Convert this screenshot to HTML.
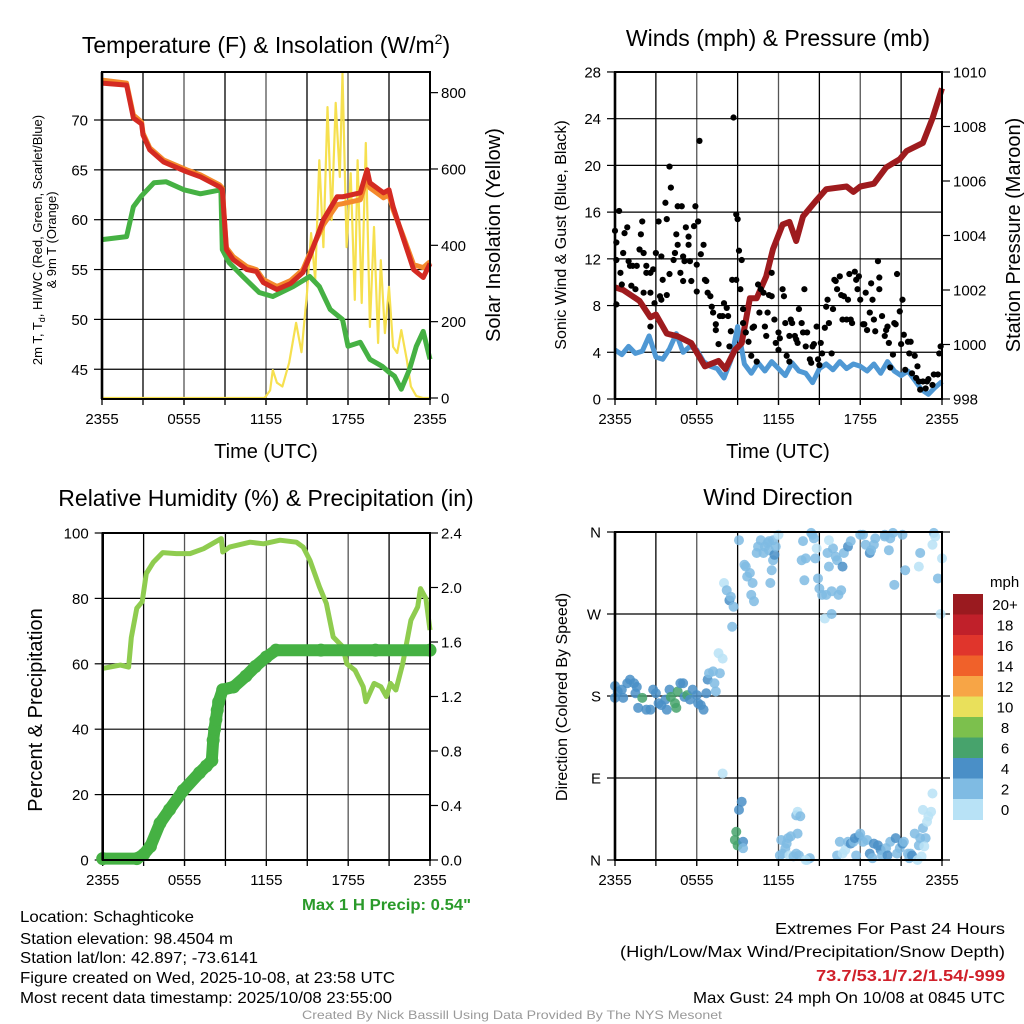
<!DOCTYPE html>
<html><head><meta charset="utf-8"><style>
html,body{margin:0;padding:0;background:#fff;}
svg{display:block;font-family:"Liberation Sans",Arial,sans-serif;}
</style></head><body>
<svg id="chart" width="1024" height="1024" viewBox="0 0 1024 1024" xmlns="http://www.w3.org/2000/svg">
<rect width="1024" height="1024" fill="#fff"/>
<g id="p1"></g>
<g id="p2"></g>
<g id="p3"></g>
<g id="p4"></g>
<g id="txt" font-size="16" fill="#000">
<text x="266" y="53" font-size="23" text-anchor="middle">Temperature (F) &amp; Insolation (W/m<tspan font-size="14" dy="-9">2</tspan><tspan dy="9">)</tspan></text>
<text x="778" y="46" font-size="23" text-anchor="middle">Winds (mph) &amp; Pressure (mb)</text>
<text x="266" y="506" font-size="23" text-anchor="middle">Relative Humidity (%) &amp; Precipitation (in)</text>
<text x="778" y="505" font-size="23" text-anchor="middle">Wind Direction</text>
<text transform="translate(42,240) rotate(-90)" font-size="13" text-anchor="middle">2m T, T<tspan font-size="9" dy="3">d</tspan><tspan dy="-3">, HI/WC (Red, Green, Scarlet/Blue)</tspan></text>
<text transform="translate(56,240) rotate(-90)" font-size="13" text-anchor="middle">&amp; 9m T (Orange)</text>
<text transform="translate(500,235) rotate(-90)" font-size="20" text-anchor="middle">Solar Insolation (Yellow)</text>
<text transform="translate(566,235) rotate(-90)" font-size="16" text-anchor="middle">Sonic Wind &amp; Gust (Blue, Black)</text>
<text transform="translate(1020,235) rotate(-90)" font-size="20" text-anchor="middle">Station Pressure (Maroon)</text>
<text transform="translate(42,710) rotate(-90)" font-size="20" text-anchor="middle">Percent &amp; Precipitation</text>
<text transform="translate(567,697) rotate(-90)" font-size="16" text-anchor="middle">Direction (Colored By Speed)</text>
<text x="266" y="458" font-size="20" text-anchor="middle">Time (UTC)</text>
<text x="778" y="458" font-size="20" text-anchor="middle">Time (UTC)</text>
<text x="302" y="910" font-size="16" font-weight="bold" fill="#2a9a2a" textLength="169" lengthAdjust="spacingAndGlyphs">Max 1 H Precip: 0.54"</text>
<text x="20" y="922" textLength="174" lengthAdjust="spacingAndGlyphs">Location: Schaghticoke</text>
<text x="20" y="944" textLength="213" lengthAdjust="spacingAndGlyphs">Station elevation: 98.4504 m</text>
<text x="20" y="963" textLength="238" lengthAdjust="spacingAndGlyphs">Station lat/lon: 42.897; -73.6141</text>
<text x="20" y="983" textLength="375" lengthAdjust="spacingAndGlyphs">Figure created on Wed, 2025-10-08, at 23:58 UTC</text>
<text x="20" y="1003" textLength="372" lengthAdjust="spacingAndGlyphs">Most recent data timestamp: 2025/10/08 23:55:00</text>
<text x="775" y="934" textLength="230" lengthAdjust="spacingAndGlyphs">Extremes For Past 24 Hours</text>
<text x="620" y="957" textLength="385" lengthAdjust="spacingAndGlyphs">(High/Low/Max Wind/Precipitation/Snow Depth)</text>
<text x="816" y="981" font-weight="bold" fill="#d0202a" textLength="189" lengthAdjust="spacingAndGlyphs">73.7/53.1/7.2/1.54/-999</text>
<text x="693" y="1003" textLength="312" lengthAdjust="spacingAndGlyphs">Max Gust: 24 mph On 10/08 at 0845 UTC</text>
<text x="302" y="1019" font-size="12" fill="#999" textLength="420" lengthAdjust="spacingAndGlyphs">Created By Nick Bassill Using Data Provided By The NYS Mesonet</text>
</g>
</svg>
<script>
// ---------- data ----------
const xTickLabels = ["2355","0555","1155","1755","2355"];
const tempTicks = [45,50,55,60,65,70];
const solarTicks = [0,200,400,600,800];
const windTicks = [0,4,8,12,16,20,24,28];
const presTicks = [998,1000,1002,1004,1006,1008,1010];
const rhTicks = [0,20,40,60,80,100];
const precipTicks = [0.0,0.4,0.8,1.2,1.6,2.0,2.4];
const dirTickLabels = ["N","E","S","W","N"];
const dirTicks = [0,90,180,270,360];
const speedBins = ["0","2","4","6","8","10","12","14","16","18","20+"];

const tempTimes = [0,1.8,2.3,2.9,3.0,3.5,4.5,6.2,7.2,8.6,8.8,9.1,9.6,10.6,11.3,11.8,12.8,13.8,14.7,15.2,16.2,17.2,17.6,18.9,19.4,19.6,20.6,21.0,21.3,22.0,22.8,23.5,24];
const tempRed = [73.7,73.5,70.2,69.6,68.5,67,65.8,64.8,64.3,63.3,63,57,56,55,54.8,53.7,53,53.6,54.7,56.3,60,62.3,62.3,62.7,65,63.7,62.7,63,61.3,58.3,55,54.2,55.6];
const tempOrange = [74.0,73.7,70.5,69.8,68.7,67.2,66,65,64.5,63.5,63.2,57.2,56.3,55.3,55,54,53.3,53.9,55,56.6,59.5,61.5,61.6,62,64.2,63.2,62.2,62.5,61,58.5,55.5,55.2,55.8];
const dewTimes = [0,1.8,2.3,2.9,3.8,4.7,6.0,7.2,8.7,8.8,9.3,10.3,11.5,12.5,14.0,15.2,15.9,16.7,17.6,18.0,18.9,19.6,20.5,21.0,21.4,21.9,22.5,23.0,23.5,24];
const dewPoint = [58,58.3,61.3,62.4,63.7,63.8,63,62.6,63,57,55.7,54.3,52.7,52.3,53.3,54.3,53.3,51,50,47.3,47.7,46,45.3,44.7,44.3,43,45,47.3,48.8,46];
const solarTimes = [0,11.9,12.3,12.5,12.8,13.2,13.7,14.2,14.6,15.0,15.3,15.6,15.9,16.2,16.5,16.8,17.1,17.4,17.6,17.9,18.2,18.5,18.7,19.0,19.3,19.6,19.9,20.2,20.4,20.7,21.0,21.3,21.6,21.9,22.3,22.6,23.0,23.5,24];
const solarValues = [0,0,20,73,40,30,93,197,120,275,432,309,623,395,762,466,773,579,851,395,589,257,623,249,668,186,448,144,361,170,291,134,118,178,100,30,5,0,0];

const windTimes = [0,0.5,1,1.5,2,2.5,3,3.5,4,4.5,5,5.5,6,6.5,7,7.5,8,8.5,9,9.5,10,10.5,11,11.5,12,12.5,13,13.5,14,14.5,15,15.5,16,16.5,17,17.5,18,18.5,19,19.5,20,20.5,21,21.5,22,22.5,23,23.5,24];
const windSpeed = [4.2,3.8,4.5,3.9,4.1,5.4,3.6,3.4,4.3,5.6,4.0,4.5,4.2,3.2,2.8,2.6,1.8,3.3,6.2,3.0,2.2,3.1,2.4,3.2,2.6,2.0,3.1,2.4,2.2,1.4,2.6,3.0,2.5,3.2,2.6,3.0,2.8,2.4,3.0,2.2,3.2,2.4,2.0,2.4,1.6,0.8,0.4,1.0,1.5];
const gustTimes = [0,0.1,0.1,0.1,0.3,0.4,0.5,0.6,0.7,0.9,1.0,1.1,1.2,1.3,1.5,1.6,1.8,1.9,2.0,2.1,2.1,2.3,2.3,2.6,2.6,2.6,2.8,2.9,3.0,3.2,3.3,3.4,3.4,3.5,3.7,3.8,3.8,4.0,4.0,4.1,4.3,4.4,4.5,4.6,4.6,4.8,4.9,5.0,5.0,5.1,5.2,5.4,5.4,5.5,5.6,5.8,5.9,6.0,6.0,6.1,6.2,6.3,6.5,6.6,6.7,6.8,7.0,7.1,7.2,7.4,7.4,7.6,7.7,7.9,8.0,8.2,8.3,8.4,8.5,8.6,8.7,8.9,8.9,9.0,9.1,9.2,9.3,9.4,9.4,9.6,9.8,10.0,10.1,10.2,10.4,10.5,10.6,10.7,10.9,11.0,11.1,11.2,11.3,11.5,11.5,11.7,11.8,12.0,12.0,12.1,12.3,12.4,12.5,12.6,12.8,12.8,12.9,13.0,13.2,13.3,13.4,13.5,13.7,13.8,13.9,14.0,14.1,14.3,14.4,14.5,14.6,14.8,14.9,15.0,15.1,15.2,15.4,15.5,15.6,15.7,15.9,16.0,16.1,16.2,16.3,16.5,16.6,16.7,16.8,17.0,17.1,17.2,17.3,17.4,17.6,17.7,17.8,17.9,18.0,18.2,18.3,18.4,18.5,18.7,18.8,18.9,19.0,19.1,19.3,19.4,19.4,19.6,19.8,19.9,20.0,20.1,20.2,20.4,20.5,20.6,20.7,20.9,21.0,21.1,21.2,21.3,21.5,21.6,21.7,21.8,22.0,22.1,22.2,22.3,22.4,22.6,22.8,22.9,23.0,23.3,23.4,23.7,23.8,23.9];
const gustSpeed = [14.4,13.4,11.9,8.1,16.1,10.8,9.8,12.5,14.2,14.7,11.8,11.4,9.7,11.4,9.4,11.4,12.8,14.1,15.2,9.1,12.5,11.4,10.8,10.8,6.2,9.1,11.1,8.2,12.5,15.2,8.8,12.2,8.5,10.2,16.8,15.4,8.9,10.7,19.9,18.1,11.9,12.5,14.1,13.2,16.5,10.8,16.5,10.1,12.2,11.8,14.7,13.9,13.2,11.8,10.1,14.8,16.5,9.2,11.5,15.2,22.1,12.4,13.2,10.2,10.1,9.1,8.8,7.9,7.4,6.4,5.9,4.7,7.1,7.1,8.2,7.8,7.1,4.5,5.8,10.2,24.1,15.8,10.2,15.4,12.7,9.4,11.9,6.5,7.7,5.7,4.9,3.7,6.1,6.2,3.2,9.8,7.4,9.4,9.1,6.2,5.4,7.4,8.9,10.8,8.8,6.8,4.8,4.2,5.7,5.2,9.4,8.8,6.5,3.7,3.2,5.4,6.8,6.5,5.4,5.1,4.8,7.7,6.5,5.7,9.4,4.5,5.7,3.4,3.1,4.5,4.7,6.2,3.4,2.9,4.8,3.9,6.1,7.9,8.5,6.5,3.9,7.7,10.2,10.1,9.4,10.5,8.9,6.8,8.8,6.8,8.5,10.7,6.8,6.5,10.9,10.2,9.4,10.5,8.5,6.4,6.4,9.1,5.9,7.4,9.9,8.5,6.8,5.8,11.8,10.4,9.4,7.1,5.4,5.9,6.2,4.8,2.7,3.8,6.5,6.4,10.7,7.5,4.7,8.5,5.5,2.5,4.9,3.9,4.9,2.2,3.7,1.8,2.8,1.5,0.8,1.5,0.9,1.5,1.7,1.2,2.1,2.1,3.9,4.5];
const presTimes = [0,0.6,1.8,2.6,3.0,3.8,4.6,5.6,6.6,7.6,8.1,8.8,9.3,9.9,10.4,11.1,11.6,12.3,12.8,13.3,13.8,14.8,15.5,17.0,17.5,18.0,19.0,19.9,20.9,21.4,22.6,23.3,24];
const presValues = [1002.1,1002.0,1001.6,1001.0,1001.1,1000.4,1000.3,1000.05,999.2,999.4,999.1,999.8,1000.05,1001.7,1001.7,1002.5,1003.5,1004.4,1004.5,1003.8,1004.7,1005.3,1005.7,1005.8,1005.6,1005.8,1005.9,1006.5,1006.8,1007.1,1007.4,1008.3,1009.4];

const rhTimes = [0,1.3,1.9,2.1,2.5,2.9,3.2,3.7,4.4,5.4,6.4,7.4,8.7,8.8,9.3,10.8,11.8,13.0,14.2,14.7,15.2,15.9,16.4,16.9,17.6,17.9,18.5,19.1,19.3,19.9,20.4,20.8,21.1,21.5,22.0,22.6,23.1,23.3,23.7,24];
const rhValues = [58.6,59.6,59,68,77,79,87.6,91,94,93.7,93.7,95.2,98.3,94.2,95.7,97.2,96.7,97.8,97.2,95.7,91.6,83.5,78.4,68.2,65.2,60,58,53,48.4,54,53,50,54,52,60,73.3,77.4,83,80,70.3];
const precipTimes = [0,2.5,3.0,3.5,4.2,4.9,5.9,7.1,7.6,8.0,8.1,8.2,8.3,8.4,8.5,8.8,9.6,10.5,11.2,12.0,12.7,16,20,24];
const precipValues = [0.01,0.01,0.04,0.1,0.27,0.37,0.51,0.64,0.69,0.73,0.88,0.96,1.03,1.1,1.16,1.25,1.27,1.35,1.42,1.49,1.54,1.54,1.54,1.54];

const dirTimes = [-0.1,0,0.2,0.5,0.6,0.9,1.1,1.4,1.5,1.6,2.0,1.7,2.3,2.6,2.8,3.0,3.2,3.4,3.7,3.8,4.0,4.1,4.4,4.5,4.6,4.8,5.0,5.1,5.3,5.5,5.7,6.0,6.1,6.3,6.5,6.7,6.8,6.9,7.2,7.3,7.4,7.7,7.6,7.9,8.6,7.9,8.0,8.2,8.4,8.5,8.7,9.1,9.3,9.1,8.9,8.8,9.0,9.4,9.4,9.6,9.5,9.7,9.9,10.1,10.0,10.2,10.4,10.5,10.7,10.9,11.0,11.2,11.3,11.3,11.4,11.5,11.6,11.7,11.6,11.8,12.0,12.1,12.2,12.3,12.5,12.6,12.7,12.8,12.9,13.1,13.3,13.4,13.5,14.1,14.3,14.0,13.3,13.4,13.6,13.7,13.8,13.9,14.0,14.4,14.5,14.6,14.7,14.8,14.9,15.0,15.2,15.4,15.5,15.6,15.7,15.9,16.0,16.2,16.3,16.4,16.6,16.7,16.8,17.1,17.3,18.2,18.0,18.4,18.7,18.8,19.0,19.1,19.8,19.8,20.1,20.2,20.4,20.5,21.1,21.3,22.4,23.4,23.5,23.7,23.9,24.0,22.3,23.3,15.7,15.9,16.3,16.5,16.7,16.9,17.1,17.3,17.5,17.7,17.6,17.9,18.0,18.2,18.5,18.7,18.9,19.0,19.3,19.5,19.6,19.9,20.0,20.2,20.6,20.7,20.9,21.1,21.2,21.5,21.6,21.7,21.8,22.0,22.3,22.4,22.6,22.8,22.7,22.5,22.2,22.9,23.0,22.6,23.2,23.3];
const dirDegrees = [191,178,185,187,178,194,198,194,183,190,178,167,165,165,187,183,172,170,176,165,187,179,172,167,185,194,194,179,181,176,187,181,172,170,165,183,198,205,207,194,185,205,227,221,256,95,304,296,285,289,278,351,64,55,31,22,16,20,13,322,324,311,315,304,291,284,337,344,351,337,344,348,340,350,304,318,329,335,351,344,357,5,22,7,13,18,24,5,26,4,7,29,5,0,2,0,49,53,48,329,350,307,331,359,357,353,331,342,309,298,291,265,291,337,322,295,342,333,329,291,296,322,337,344,350,357,357,346,337,340,346,353,355,357,340,353,359,302,357,318,337,359,355,309,270,331,322,346,351,270,5,20,7,11,20,18,20,5,24,26,29,20,22,7,2,18,16,11,5,13,5,20,24,7,13,18,20,7,2,7,5,29,16,24,35,24,15,4,0,42,48,55,53,73,81,90,15,0];
const dirSpeeds = [4,4,4,4,4,4,4,4,4,4,6,4,4,4,4,4,4,4,4,4,4,6,6,6,6,4,4,4,6,4,4,4,4,4,4,4,4,2,2,2,2,2,1,1,2,1,1,2,4,2,2,2,4,4,6,6,6,4,2,2,2,2,2,2,2,2,2,2,2,2,2,2,2,2,2,2,2,4,2,2,1,2,2,2,2,2,2,1,2,2,2,2,2,1,2,1,2,1,2,2,2,2,2,2,2,2,2,1,2,2,2,1,2,2,2,2,2,2,2,2,2,4,2,4,2,2,2,2,4,2,2,2,2,2,2,2,2,2,2,2,2,2,1,2,1,1,1,1,1,2,2,2,1,1,2,4,2,2,4,4,2,2,2,4,2,4,4,4,2,2,4,2,4,2,2,4,2,2,2,2,4,2,2,2,2,2,1,1,1,1,1,1,1,1,1,1,1,1,1,1,1];

// ---------- helpers ----------
const NS = "http://www.w3.org/2000/svg";
function mk(parent, tag, attrs){
  const el = document.createElementNS(NS, tag);
  for (const k in attrs) el.setAttribute(k, attrs[k]);
  parent.appendChild(el);
  return el;
}
function pathFrom(xs, ys, fx, fy){
  let d = "";
  for (let i=0;i<xs.length;i++){ d += (i?"L":"M") + fx(xs[i]).toFixed(1) + "," + fy(ys[i]).toFixed(1); }
  return d;
}
const speedColors = ["#b8e2f6","#7fbbe3","#4a8fc7","#47a36c","#7cc04d","#e9e05b","#f7a546","#f0612a","#e0352c","#c0202a","#9a1a1f"];

function frame(g, L, R, T, B, prefix){
  for (let k=1;k<8;k++){
    const x = L + (R-L)*k/8;
    const gl = mk(g,"line",{x1:x,y1:T,x2:x,y2:B+6,stroke:(k%2===0?"#555":"#000"),"stroke-width":1.3});
    
    
  }
  xTickLabels.forEach((lab,i)=>{
    const x = L + (R-L)*i/4;
    const tk = mk(g,"line",{x1:x,y1:B,x2:x,y2:B+6,stroke:"#000","stroke-width":1.3});
    
    
    const t = mk(g,"text",{x:x,y:B+25,"font-size":15,"text-anchor":"middle"});
    t.textContent = lab;
    
    
  });
}
function border(g, L, R, T, B, prefix){
  const r = mk(g,"rect",{x:L,y:T,width:R-L,height:B-T,fill:"none",stroke:"#000","stroke-width":2});
  
  
  const la = mk(g,"line",{x1:L,y1:T,x2:L,y2:B,stroke:"#000","stroke-width":2.6});
  
  
}
function leftAxis(g, ticks, labels, fy, L, R, prefix, grid){
  ticks.forEach((v,i)=>{
    const y = fy(v);
    if (grid){
      const gl = mk(g,"line",{x1:L,y1:y,x2:R,y2:y,stroke:"#000","stroke-width":1.2});
      
      
    }
    const tk = mk(g,"line",{x1:L-8,y1:y,x2:L,y2:y,stroke:"#000","stroke-width":1.2});
    
    
    const t = mk(g,"text",{x:L-14,y:y+5.5,"font-size":15,"text-anchor":"end"});
    t.textContent = labels[i];
    
    
  });
}
function rightAxis(g, ticks, labels, fy, R, prefix){
  ticks.forEach((v,i)=>{
    const y = fy(v);
    const tk = mk(g,"line",{x1:R,y1:y,x2:R+8,y2:y,stroke:"#000","stroke-width":1.2});
    
    
    const t = mk(g,"text",{x:R+11,y:y+5.5,"font-size":15,"text-anchor":"start"});
    t.textContent = labels[i];
    
    
  });
}

// ---------- panel 1 ----------
(function(){
  const g = document.getElementById("p1");
  const L=102,R=430,T=72,B=399;
  const fx = h => L + h*(R-L)/24;
  const fT = t => 120 + (70-t)*9.97;
  const fW = w => 398 - w*0.3817;
  frame(g,L,R,T,B,"temp");
  leftAxis(g,tempTicks,tempTicks.map(String),fT,L,R,"temp",true);
  rightAxis(g,solarTicks,solarTicks.map(String),fW,R,"solar");
  const ys = mk(g,"path",{d:pathFrom(solarTimes,solarValues,fx,fW),fill:"none",stroke:"#f6e04f","stroke-width":2.2,"stroke-linejoin":"round"});
  
  
  const dp = mk(g,"path",{d:pathFrom(dewTimes,dewPoint,fx,fT),fill:"none",stroke:"#45b143","stroke-width":5,"stroke-linejoin":"round"});
  
  
  const org = mk(g,"path",{d:pathFrom(tempTimes,tempOrange,fx,fT),fill:"none",stroke:"#f48a2c","stroke-width":5,"stroke-linejoin":"round"});
  
  
  const red = mk(g,"path",{d:pathFrom(tempTimes,tempRed,fx,fT),fill:"none",stroke:"#d42a22","stroke-width":5,"stroke-linejoin":"round"});
  
  
  border(g,L,R,T,B,"temp");
})();

// ---------- panel 2 ----------
(function(){
  const g = document.getElementById("p2");
  const L=615,R=942,T=72,B=399;
  const fx = h => L + h*(R-L)/24;
  const fV = v => 399 - v*11.68;
  const fP = p => 399 - (p-998)*27.25;
  frame(g,L,R,T,B,"wind");
  leftAxis(g,windTicks,windTicks.map(String),fV,L,R,"wind",true);
  rightAxis(g,presTicks,presTicks.map(String),fP,R,"pressure");
  const wl = mk(g,"path",{d:pathFrom(windTimes,windSpeed,fx,fV),fill:"none",stroke:"#4f98d4","stroke-width":5,"stroke-linejoin":"round"});
  
  
  const pl = mk(g,"path",{d:pathFrom(presTimes,presValues,fx,fP),fill:"none",stroke:"#9e1b1e","stroke-width":6,"stroke-linejoin":"round"});
  
  
  gustTimes.forEach((h,i)=>{
    const c = mk(g,"circle",{cx:fx(h),cy:fV(gustSpeed[i]),r:3.1,fill:"#000"});
    
    
  });
  border(g,L,R,T,B,"wind");
})();

// ---------- panel 3 ----------
(function(){
  const g = document.getElementById("p3");
  const L=102.7,R=430,T=533,B=860;
  const fx = h => L + h*(R-L)/24;
  const fH = v => 860 - v*3.27;
  const fPr = p => 860 - p*136.25;
  frame(g,L,R,T,B,"rh");
  leftAxis(g,rhTicks,rhTicks.map(String),fH,L,R,"rh",true);
  rightAxis(g,precipTicks,precipTicks.map(v=>v.toFixed(1)),fPr,R,"precip");
  const rl = mk(g,"path",{d:pathFrom(rhTimes,rhValues,fx,fH),fill:"none",stroke:"#8fcc4f","stroke-width":5,"stroke-linejoin":"round"});
  
  
  const pl = mk(g,"path",{d:pathFrom(precipTimes,precipValues,fx,fPr),fill:"none",stroke:"#45b143","stroke-width":12,"stroke-linejoin":"round","stroke-linecap":"round"});
  
  
  precipTimes.forEach((h,i)=>{
    const c = mk(g,"circle",{cx:fx(h),cy:fPr(precipValues[i]),r:6.5,fill:"#45b143"});
    
    
  });
  border(g,L,R,T,B,"rh");
})();

// ---------- panel 4 ----------
(function(){
  const g = document.getElementById("p4");
  const L=615,R=942,T=532,B=860;
  const fx = h => L + h*(R-L)/24;
  const fD = d => 860 - d*(B-T)/360;
  frame(g,L,R,T,B,"dir");
  leftAxis(g,dirTicks,dirTickLabels,fD,L,R,"dir",true);
  dirTicks.forEach(d=>{
    const tk = mk(g,"line",{x1:R,y1:fD(d),x2:R+8,y2:fD(d),stroke:"#000","stroke-width":1.2});
    
    
  });
  dirTimes.forEach((h,i)=>{
    const c = mk(g,"circle",{cx:fx(Math.max(0,h)),cy:fD(dirDegrees[i]),r:5,fill:speedColors[Math.min(10,Math.floor(dirSpeeds[i]/2))],"fill-opacity":0.85});
    
    
  });
  border(g,L,R,T,B,"dir");
  const cb = mk(g,"g",{});
  
  
  const top=594, h=20.5;
  const unit = mk(cb,"text",{x:990,y:587,"font-size":15});
  unit.textContent = "mph";
  
  
  speedBins.forEach((lab,i)=>{
    const idx = speedBins.length-1-i;
    const y = top + i*h;
    const r = mk(cb,"rect",{x:953,y:y,width:30,height:h+0.5,fill:speedColors[idx]});
    
    
    const t = mk(cb,"text",{x:1005,y:y+h/2+5.5,"font-size":15,"text-anchor":"middle"});
    t.textContent = speedBins[idx];
    
    
  });
})();
</script>
</body></html>
